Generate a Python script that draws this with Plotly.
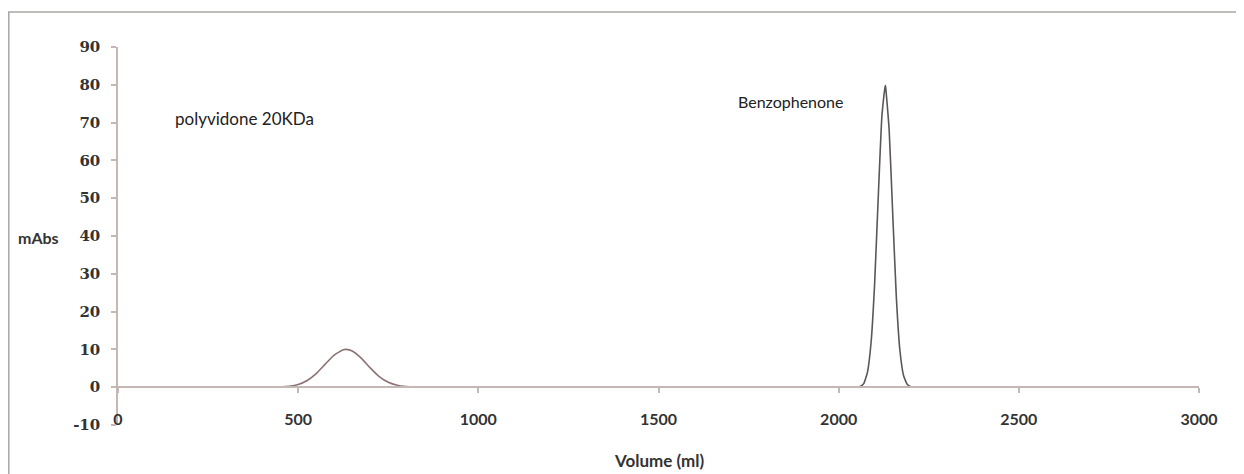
import plotly.graph_objects as go

# Polyvidone 20KDa trace
vol_pvp = [0, 350, 400, 425, 450, 475, 500, 525, 550, 575, 600, 625, 633, 650, 675, 700, 725,
           750, 775, 800, 825, 850, 900, 950, 2662]
abs_pvp = [0.0, 0.0, 0.0, 0.02, 0.07, 0.25, 0.72, 1.77, 3.6, 6.1, 8.5, 9.9, 10.0, 9.6, 7.7,
           5.1, 2.8, 1.3, 0.5, 0.16, 0.04, 0.01, 0.0, 0.0, 0.0]

# Benzophenone trace
vol_bzp = [0, 2000, 2030, 2040, 2050, 2060, 2070, 2080, 2090, 2100, 2110, 2120, 2129, 2130,
           2140, 2150, 2160, 2170, 2180, 2190, 2200, 2210, 2230, 2260, 2662]
abs_bzp = [0.0, 0.0, 0.0, 0.0, 0.03, 0.2, 1.0, 4.0, 11.9, 27.8, 50.6, 71.8, 79.8, 79.6,
           68.3, 45.8, 23.9, 9.7, 3.1, 0.8, 0.15, 0.02, 0.0, 0.0, 0.0]

x_ticks = [0, 500, 1000, 1500, 2000, 2500, 3000]
y_ticks = [-10, 0, 10, 20, 30, 40, 50, 60, 70, 80, 90]

labels = ["polyvidone 20KDa", "Benzophenone"]
label_x = [352, 1865]
label_y = [71.2, 75.7]
label_size = [17, 16]

AX = "#c4b8b4"
TXT = "#333333"
OFF = 8  # page body margin
SW, SH = 1244, 474
PL, PR, PT, PB = 118, 1199, 47, 425  # plot area in screen pixels

fig = go.Figure()
fig.add_trace(go.Scatter(x=vol_pvp, y=abs_pvp, mode="lines",
                         line=dict(color="#8c7373", width=1.6, shape="spline", smoothing=0.5),
                         hoverinfo="skip", showlegend=False))
fig.add_trace(go.Scatter(x=vol_bzp, y=abs_bzp, mode="lines",
                         line=dict(color="#5c5757", width=1.6, shape="spline", smoothing=0.4),
                         hoverinfo="skip", showlegend=False))

for t, xx, yy, s in zip(labels, label_x, label_y, label_size):
    fig.add_annotation(x=xx, y=yy, text=t, showarrow=False, xanchor="center", yanchor="middle",
                       font=dict(family="Lato", size=s, color="#222222"))

pw, ph = PR - PL, PB - PT
def px(x):
    return (x - PL) / pw
def py(y):
    return (PB - y) / ph

# outer chart border
fig.add_shape(type="rect", xref="paper", yref="paper",
              x0=px(8.8), x1=px(1260), y0=py(12), y1=py(490),
              line=dict(color="#aaa6a2", width=1.5), fillcolor="rgba(0,0,0,0)", layer="below")

fig.add_annotation(xref="paper", yref="paper", x=px(38), y=py(237), text="<b>mAbs</b>",
                   showarrow=False, xanchor="center", yanchor="middle",
                   font=dict(family="Lato", size=16, color=TXT))
fig.add_annotation(xref="paper", yref="paper", x=px(659), y=py(460), text="<b>Volume (ml)</b>",
                   showarrow=False, xanchor="center", yanchor="middle",
                   font=dict(family="Lato", size=17, color=TXT))

fig.update_layout(
    width=SW - OFF, height=SH - OFF,
    margin=dict(l=PL - OFF, r=SW - PR, t=PT - OFF, b=SH - PB),
    paper_bgcolor="white", plot_bgcolor="white",
    xaxis=dict(range=[0, 3000], tickvals=x_ticks, ticktext=[f"<b>{v}</b>" for v in x_ticks],
               showgrid=False, zeroline=False, showline=True, linecolor=AX, linewidth=1.5,
               ticks="outside", ticklen=5, tickcolor=AX, tickwidth=1.5,
               anchor="free", position=0.1, ticklabelstandoff=13,
               tickfont=dict(family="Lato", size=16, color=TXT)),
    yaxis=dict(range=[-10, 90], tickvals=y_ticks, ticktext=[f"<b>{v}</b>" for v in y_ticks],
               showgrid=False, zeroline=False, showline=True, linecolor=AX, linewidth=1.5,
               ticks="outside", ticklen=5, tickcolor=AX, tickwidth=1.5, ticklabelstandoff=8,
               tickfont=dict(family="DejaVu Serif", size=15, color=TXT)),
)

fig.write_html("out.html")
